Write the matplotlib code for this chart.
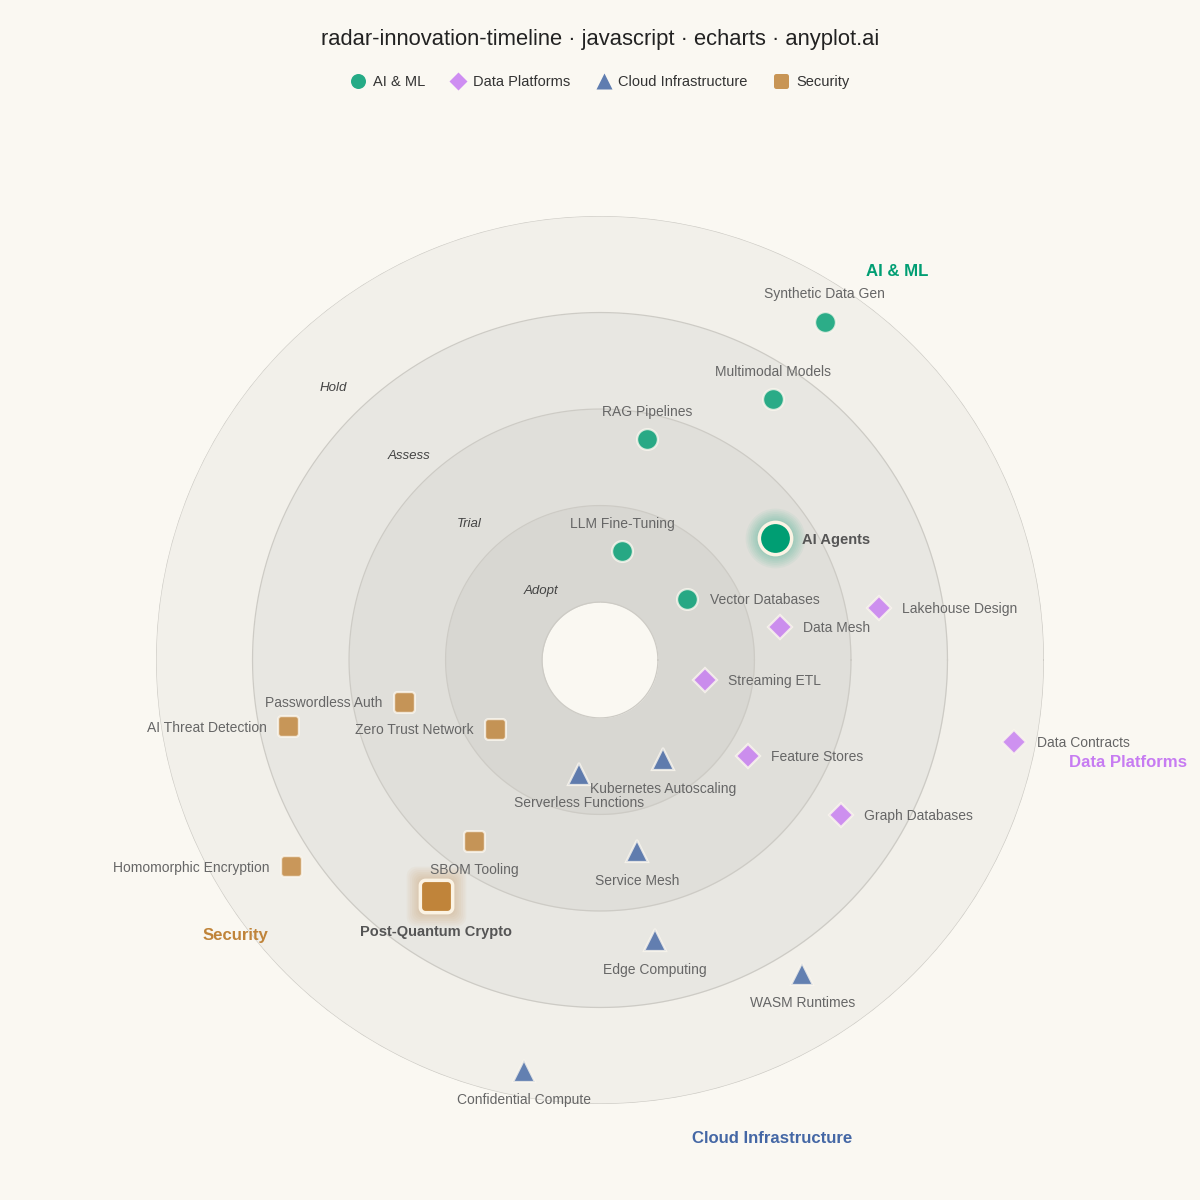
import numpy as np
import matplotlib
matplotlib.use("Agg")
import matplotlib.pyplot as plt
from matplotlib.path import Path
from matplotlib.lines import Line2D

plt.rcParams["font.family"] = ["Liberation Sans", "DejaVu Sans"]

BG = "#FAF8F2"

# ---------------- data ----------------
title = "radar-innovation-timeline · javascript · echarts · anyplot.ai"

rings = ["Adopt", "Trial", "Assess", "Hold"]
ring_edges = [0.6, 1.6, 2.6, 3.6, 4.6]
ring_label_r = [0.95, 1.97, 2.91, 3.96]
ring_label_angle = [130.0, 133.5, 132.8, 134.3]

quadrants = ["AI & ML", "Data Platforms", "Cloud Infrastructure", "Security"]
quad_label_r = [5.08, 5.57, 5.25, 4.72]
quad_label_angle = [52.7, -10.8, -70.2, -143.1]

ai_names = ["Synthetic Data Gen", "Multimodal Models", "RAG Pipelines",
            "LLM Fine-Tuning", "AI Agents", "Vector Databases"]
ai_r = [4.21, 3.24, 2.34, 1.15, 2.21, 1.10]
ai_angle = [56.4, 56.5, 78.0, 78.6, 34.9, 35.0]
ai_label_pos = ["top", "top", "top", "top", "right", "right"]

data_names = ["Lakehouse Design", "Data Mesh", "Streaming ETL",
              "Feature Stores", "Graph Databases", "Data Contracts"]
data_r = [2.94, 1.90, 1.11, 1.83, 2.97, 4.37]
data_angle = [10.6, 10.4, -10.8, -32.8, -32.7, -11.2]
data_label_pos = ["right"] * 6

cloud_names = ["Kubernetes Autoscaling", "Serverless Functions", "Service Mesh",
               "Edge Computing", "WASM Runtimes", "Confidential Compute"]
cloud_r = [1.22, 1.20, 2.02, 2.96, 3.87, 4.33]
cloud_angle = [-57.5, -100.4, -79.0, -78.9, -57.2, -100.5]
cloud_label_pos = ["bottom"] * 6

sec_names = ["Zero Trust Network", "Passwordless Auth", "AI Threat Detection",
             "SBOM Tooling", "Post-Quantum Crypto", "Homomorphic Encryption"]
sec_r = [1.30, 2.08, 3.30, 2.28, 2.98, 3.85]
sec_angle = [-146.7, -167.9, -168.0, -124.8, -124.8, -146.3]
sec_label_pos = ["left", "left", "left", "bottom", "bottom", "left"]

highlighted = ["AI Agents", "Post-Quantum Crypto"]

# ---------------- styles ----------------
ring_fill = ["#D8D7D2", "#E0DFDA", "#E8E7E2", "#F2F0EA"]
ring_line = "#CDCBC5"
quad_colors = ["#009E73", "#C77CF2", "#4467A5", "#C0843A"]


def rounded_square(rad=0.32, n=10):
    pts = []
    c = 1 - rad
    for cx, cy, a0 in [(c, c, 0), (-c, c, 90), (-c, -c, 180), (c, -c, 270)]:
        for t in np.linspace(np.radians(a0), np.radians(a0 + 90), n):
            pts.append((cx + rad * np.cos(t), cy + rad * np.sin(t)))
    pts.append(pts[0])
    codes = [Path.MOVETO] + [Path.LINETO] * (len(pts) - 2) + [Path.CLOSEPOLY]
    return Path(pts, codes)


RSQ = rounded_square()
quad_markers = ["o", "D", "^", RSQ]
quad_ms = [15, 12.5, 16, 15]

series = [
    (ai_names, ai_r, ai_angle, ai_label_pos),
    (data_names, data_r, data_angle, data_label_pos),
    (cloud_names, cloud_r, cloud_angle, cloud_label_pos),
    (sec_names, sec_r, sec_angle, sec_label_pos),
]

# ---------------- figure ----------------
fig = plt.figure(figsize=(12, 12), dpi=100, facecolor=BG)
ax = fig.add_axes([0.13, 0.08, 0.74, 0.74], projection="polar")
ax.set_ylim(0, ring_edges[-1])
ax.set_axis_off()

theta_full = np.linspace(0, 2 * np.pi, 721)
# rings, outer first
for i in reversed(range(len(rings))):
    ax.fill_between(theta_full, 0, ring_edges[i + 1], color=ring_fill[i], lw=0, zorder=1)
    ax.plot(theta_full, np.full_like(theta_full, ring_edges[i + 1]), color=ring_line, lw=0.9, zorder=2)
ax.fill_between(theta_full, 0, ring_edges[0], color=BG, lw=0, zorder=1)
ax.plot(theta_full, np.full_like(theta_full, ring_edges[0]), color=ring_line, lw=0.9, zorder=2)

# ring labels
for name, rr, aa in zip(rings, ring_label_r, ring_label_angle):
    ax.annotate(name, xy=(np.radians(aa), rr), xytext=(0, -1.2), textcoords="offset points",
                ha="center", va="center", fontsize=9.5, style="italic",
                color="#444444", zorder=3)

# quadrant labels
for name, rr, aa, col in zip(quadrants, quad_label_r, quad_label_angle, quad_colors):
    ax.annotate(name, xy=(np.radians(aa), rr), xytext=(0, -1.2), textcoords="offset points",
                ha="center", va="center", fontsize=12.1, fontweight="bold", color=col,
                zorder=3, annotation_clip=False)

offsets = {"top": (0, 19.8, "center", "center"),
           "bottom": (0, -21.2, "center", "center"),
           "right": (16.5, -1.0, "left", "center"),
           "left": (-15.5, -1.0, "right", "center")}

for (names, rs, angs, poss), col, mk, ms in zip(series, quad_colors, quad_markers, quad_ms):
    for nm, rr, aa, pos in zip(names, rs, angs, poss):
        th = np.radians(aa)
        hl = nm in highlighted
        if hl:
            big = ms * 1.55
            for f in np.linspace(1.85, 1.08, 8):
                ax.plot([th], [rr], marker=mk, ls="", ms=big * f, color=col,
                        alpha=0.045, mec="none", zorder=4, clip_on=False)
            ax.plot([th], [rr], marker=mk, ls="", ms=big, color=col, alpha=1.0,
                    mec="#FBF3E4", mew=2.5, zorder=5, clip_on=False)
        else:
            ax.plot([th], [rr], marker=mk, ls="", ms=ms, color=col, alpha=0.82,
                    mec="#FAF6EE", mew=1.6, zorder=5, clip_on=False)
        dx, dy, ha, va = offsets[pos]
        if hl:
            dx *= 1.2
            dy *= 1.2
        ax.annotate(nm, xy=(th, rr), xytext=(dx, dy), textcoords="offset points",
                    ha=ha, va=va, fontsize=10.5 if hl else 10,
                    fontweight="bold" if hl else "normal",
                    color="#555555" if hl else "#666666", zorder=6,
                    annotation_clip=False)

# title
fig.text(0.5, 1 - 39 / 1200, title, ha="center", va="center", fontsize=15.8, color="#222222")

# legend
handles = [Line2D([], [], marker=mk, ls="", color=c, alpha=0.85, ms=s * 0.72, mec="none")
           for mk, c, s in zip(quad_markers, quad_colors, quad_ms)]
fig.legend(handles, quadrants, loc="center", bbox_to_anchor=(0.5, 1 - 82 / 1200),
           ncol=4, frameon=False, fontsize=10.5, handlelength=1.0, handletextpad=0.5,
           columnspacing=1.8, labelcolor="#333333")

fig.savefig("out.png", dpi=100, facecolor=BG)
